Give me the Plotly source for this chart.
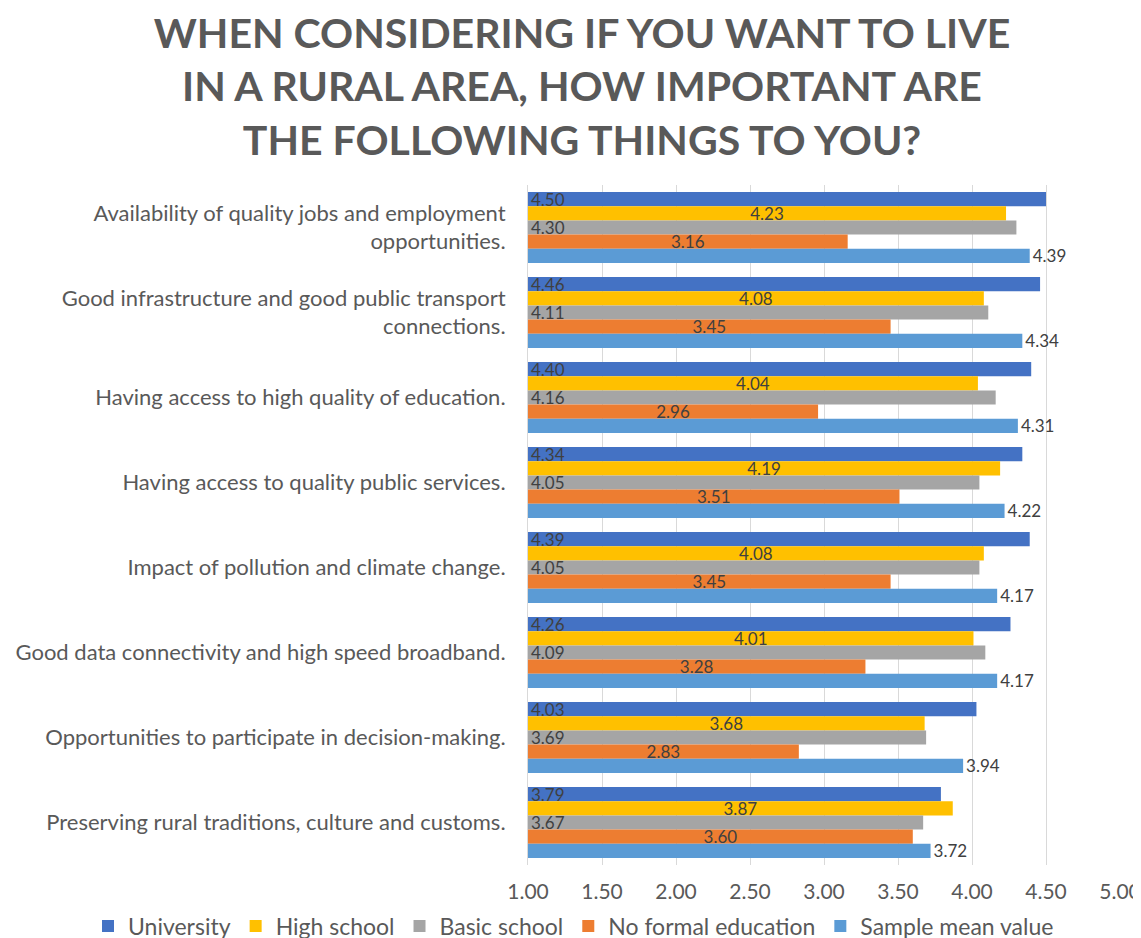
import plotly.graph_objects as go

# Categories, top to bottom
categories = [
    "Availability of quality jobs and employment<br>opportunities.",
    "Good infrastructure and good public transport<br>connections.",
    "Having access to high quality of education.",
    "Having access to quality public services.",
    "Impact of pollution and climate change.",
    "Good data connectivity and high speed broadband.",
    "Opportunities to participate in decision-making.",
    "Preserving rural traditions, culture and customs.",
]

university = [4.50, 4.46, 4.40, 4.34, 4.39, 4.26, 4.03, 3.79]
high_school = [4.23, 4.08, 4.04, 4.19, 4.08, 4.01, 3.68, 3.87]
basic_school = [4.30, 4.11, 4.16, 4.05, 4.05, 4.09, 3.69, 3.67]
no_formal = [3.16, 3.45, 2.96, 3.51, 3.45, 3.28, 2.83, 3.60]
sample_mean = [4.39, 4.34, 4.31, 4.22, 4.17, 4.17, 3.94, 3.72]

tick_vals = [1.0, 1.5, 2.0, 2.5, 3.0, 3.5, 4.0, 4.5, 5.0]
tick_text = ["1.00", "1.50", "2.00", "2.50", "3.00", "3.50", "4.00", "4.50", "5.00"]

AXIS_MIN = 1.0
TEXT_GRAY = "#595959"
LABEL_GRAY = "#404040"
FONT = "Lato"

series = [
    ("University", university, "#4472C4", "inside", "start"),
    ("High school", high_school, "#FFC000", "inside", "middle"),
    ("Basic school", basic_school, "#A5A5A5", "inside", "start"),
    ("No formal education", no_formal, "#ED7D31", "inside", "middle"),
    ("Sample mean value", sample_mean, "#5B9BD5", "outside", "end"),
]

fig = go.Figure()
for name, values, color, pos, anchor in series:
    fig.add_trace(
        go.Bar(
            name=name,
            y=categories,
            x=[v - AXIS_MIN for v in values],  # bars grow from the 1.00 axis floor
            base=AXIS_MIN,
            orientation="h",
            marker=dict(color=color, line=dict(width=0)),
            text=[f"{v:.2f}" for v in values],
            textposition=pos,
            insidetextanchor=anchor,
            textangle=0,
            textfont=dict(size=17, color=LABEL_GRAY, family=FONT),
            cliponaxis=False,
        )
    )

fig.update_layout(
    width=1141,
    height=938,
    barmode="group",
    bargap=0.165,
    bargroupgap=0,
    plot_bgcolor="white",
    paper_bgcolor="white",
    margin=dict(l=520, r=29, t=177, b=81, pad=0, autoexpand=False),
    font=dict(family=FONT, color=TEXT_GRAY),
    uniformtext=dict(minsize=17, mode="show"),
    title=dict(
        text="WHEN CONSIDERING IF YOU WANT TO LIVE<br>IN A RURAL AREA, HOW IMPORTANT ARE<br>THE FOLLOWING THINGS TO YOU?",
        font=dict(family=FONT, size=41, color=TEXT_GRAY, weight="bold"),
        x=574 / 1141,
        xanchor="center",
        y=1 - 40 / 938,
        yanchor="middle",
    ),
    legend=dict(
        orientation="h",
        x=(88 - 528) / 592,
        xanchor="left",
        y=-(918 - 857) / 680,
        yanchor="middle",
        font=dict(size=23, color=TEXT_GRAY, family=FONT),
        traceorder="normal",
        itemwidth=30,
    ),
)

fig.update_xaxes(
    range=[1, 5],
    tickvals=tick_vals,
    ticktext=tick_text,
    showgrid=True,
    gridcolor="#D9D9D9",
    gridwidth=1,
    zeroline=False,
    showline=False,
    ticks="",
    tickfont=dict(size=21, color=TEXT_GRAY),
    ticklabelstandoff=12,
)
fig.update_yaxes(
    autorange="reversed",
    showline=True,
    linecolor="#D9D9D9",
    ticks="",
    tickfont=dict(size=22, color=TEXT_GRAY),
    ticklabelstandoff=17,
)

fig.write_html("out.html")
